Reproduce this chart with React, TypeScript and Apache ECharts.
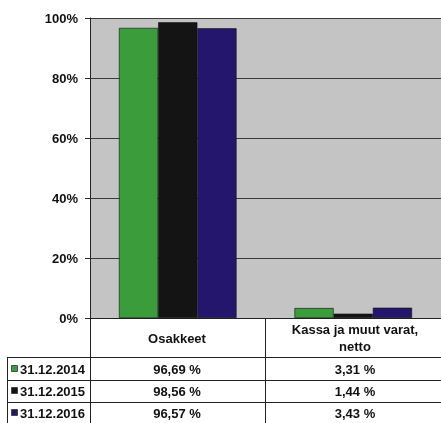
import React, { useEffect, useRef } from "react";
import * as echarts from "echarts";

const categories = ["Osakkeet", "Kassa ja muut varat,\nnetto"];
const seriesNames = ["31.12.2014", "31.12.2015", "31.12.2016"];
const values2014 = [96.69, 3.31];
const values2015 = [98.56, 1.44];
const values2016 = [96.57, 3.43];
const seriesValues = [values2014, values2015, values2016];
const seriesColors = ["#3a9c3a", "#141414", "#24166c"];
const yTicks = [0, 20, 40, 60, 80, 100];

const fmt = (v: number) => v.toFixed(2).replace(".", ",") + " %";

export default function App() {
  const ref = useRef<HTMLDivElement>(null);
  useEffect(() => {
    if (!ref.current) return;
    const chart = echarts.init(ref.current, null, { renderer: "svg" });
    const W = 441;
    const left = 90;
    const top = 18;
    const axisY = 318;
    const mid = 265;
    const rowLines = [357, 380, 402];
    const rowCenters = [369, 391, 413];
    const colCenters = [177, 355];
    const font = "bold 13px 'Liberation Sans', Arial, sans-serif";
    const lineStyle = { stroke: "#222", lineWidth: 1 };

    const graphics: any[] = [];
    graphics.push({ type: "line", shape: { x1: left + 0.5, y1: axisY, x2: left + 0.5, y2: 423 }, style: lineStyle });
    graphics.push({ type: "line", shape: { x1: mid + 0.5, y1: axisY, x2: mid + 0.5, y2: 423 }, style: lineStyle });
    graphics.push({ type: "line", shape: { x1: 7.5, y1: rowLines[0], x2: 7.5, y2: 423 }, style: lineStyle });
    rowLines.forEach((y) => {
      graphics.push({ type: "line", shape: { x1: 7, y1: y + 0.5, x2: W, y2: y + 0.5 }, style: lineStyle });
    });
    categories.forEach((c, i) => {
      graphics.push({
        type: "text",
        x: colCenters[i],
        y: 338,
        style: { text: c, font, fill: "#111", align: "center", verticalAlign: "middle", lineHeight: 17 },
      });
    });
    seriesNames.forEach((name, r) => {
      graphics.push({
        type: "rect",
        shape: { x: 11.5, y: rowCenters[r] - 3.5, width: 6, height: 6 },
        style: { fill: seriesColors[r], stroke: "#333", lineWidth: 0.8 },
      });
      graphics.push({
        type: "text",
        x: 20,
        y: rowCenters[r],
        style: { text: name, font, fill: "#111", align: "left", verticalAlign: "middle" },
      });
      seriesValues[r].forEach((v, c) => {
        graphics.push({
          type: "text",
          x: colCenters[c],
          y: rowCenters[r],
          style: { text: fmt(v), font, fill: "#111", align: "center", verticalAlign: "middle" },
        });
      });
    });

    chart.setOption({
      animation: false,
      grid: {
        left,
        right: 0,
        top,
        bottom: 423 - axisY,
        show: true,
        backgroundColor: "#c4c4c4",
        borderWidth: 0,
      },
      xAxis: {
        type: "category",
        data: categories,
        axisLabel: { show: false },
        axisTick: { show: false },
        axisLine: { show: true, lineStyle: { color: "#222", width: 1 } },
        splitLine: { show: false },
      },
      yAxis: {
        type: "value",
        min: yTicks[0],
        max: yTicks[yTicks.length - 1],
        interval: 20,
        axisLabel: {
          formatter: "{value}%",
          fontFamily: "'Liberation Sans', Arial, sans-serif",
          fontWeight: "bold",
          fontSize: 13,
          color: "#111",
          margin: 12,
        },
        axisTick: { show: true, length: 5, lineStyle: { color: "#222" } },
        axisLine: { show: true, lineStyle: { color: "#222", width: 1 } },
        splitLine: { show: true, lineStyle: { color: "#3a3a3a", width: 1 } },
      },
      series: seriesNames.map((name, i) => ({
        name,
        type: "bar",
        data: seriesValues[i],
        barGap: "0%",
        barCategoryGap: "33%",
        itemStyle: { color: seriesColors[i], borderColor: "#111", borderWidth: 0.6 },
      })),
      graphic: graphics,
    });
    return () => chart.dispose();
  }, []);
  return <div ref={ref} style={{ position: "fixed", left: 0, top: 0, width: 441, height: 423 }} />;
}
